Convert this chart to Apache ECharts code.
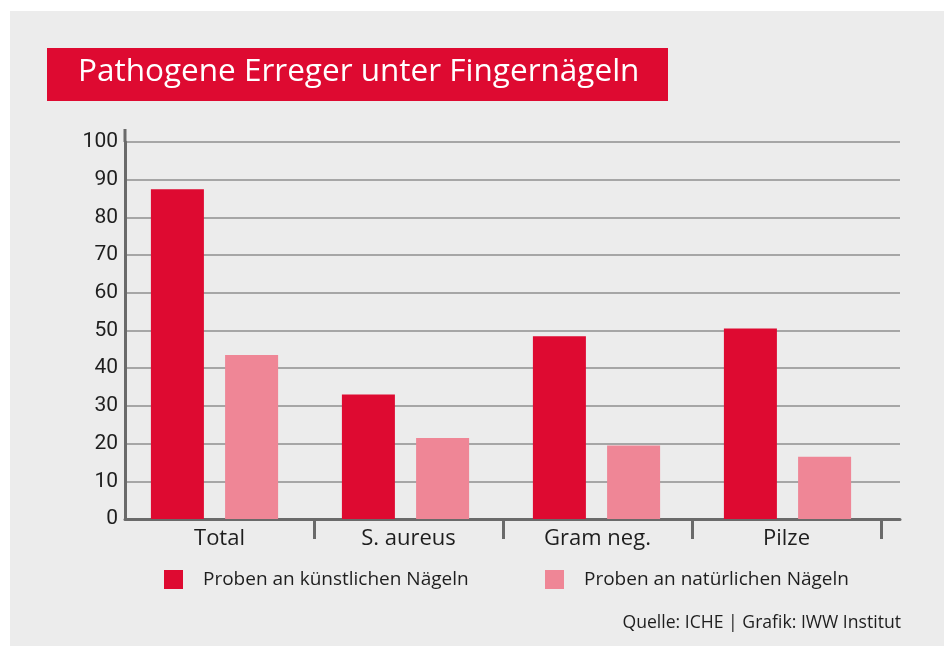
<!DOCTYPE html>
<html>
<head>
<meta charset="utf-8">
<script src="https://cdn.jsdelivr.net/npm/echarts@6/dist/echarts.min.js"></script>
<style>
  html, body { margin: 0; padding: 0; background: #ffffff; }
  #chart { width: 944px; height: 646px; }
</style>
</head>
<body>
<div id="chart"></div>
<script>
// Daten
const categories = ['Total', 'S. aureus', 'Gram neg.', 'Pilze']
const kuenstlich = [87.5, 33, 48.5, 50.5]
const natuerlich = [43.5, 21.5, 19.5, 16.5]
const seriesNames = ['Proben an künstlichen Nägeln', 'Proben an natürlichen Nägeln']
const titleText = 'Pathogene Erreger unter Fingernägeln'
const sourceText = 'Quelle: ICHE | Grafik: IWW Institut'

const RED = '#de0a31'
const PINK = '#ef8696'
const FONT = 'Open Sans'
const TEXT = '#1e1e1e'

const chart = echarts.init(document.getElementById('chart'))

const option = {
  backgroundColor: '#ffffff',
  animation: false,
  textStyle: { fontFamily: FONT },
  graphic: [
    // grauer Hintergrund
    { type: 'rect', left: 10, top: 11, z: -10, shape: { width: 934, height: 635 }, style: { fill: '#ececec' } },
    // roter Titelbalken
    { type: 'rect', left: 47, top: 48, z: 1, shape: { width: 621, height: 53 }, style: { fill: RED } },
    // Verlängerung der y-Achse über 100 hinaus
    { type: 'line', z: 5, shape: { x1: 125, y1: 129, x2: 125, y2: 142 }, style: { stroke: '#6a6a6a', lineWidth: 3 } }
  ],
  title: [
    {
      text: titleText,
      left: 78,
      top: 56,
      padding: 0,
      textStyle: { color: '#ffffff', fontSize: 31.5, fontWeight: 'normal', fontFamily: FONT }
    },
    {
      text: sourceText,
      right: 43,
      top: 614,
      padding: 0,
      textStyle: { color: TEXT, fontSize: 17.6, fontWeight: 'normal', fontFamily: FONT }
    }
  ],
  legend: [
    {
      data: [seriesNames[0]],
      left: 164, top: 570, padding: 0,
      icon: 'rect', itemWidth: 19, itemHeight: 19,
      textStyle: { color: TEXT, fontSize: 19, padding: [0, 0, 0, 15], fontFamily: FONT }
    },
    {
      data: [seriesNames[1]],
      left: 545, top: 570, padding: 0,
      icon: 'rect', itemWidth: 19, itemHeight: 19,
      textStyle: { color: TEXT, fontSize: 19, padding: [0, 0, 0, 15], fontFamily: FONT }
    }
  ],
  grid: [
    // Gitterlinien und Achsenlinien (bis 900 px)
    { left: 125, right: 44, top: 142, bottom: 127 },
    // Kategorien und Striche
    { left: 125, right: 63, top: 142, bottom: 127 },
    // Balken
    { left: 119, right: 61, top: 142, bottom: 127 }
  ],
  xAxis: [
    {
      type: 'value', gridIndex: 0, min: 0, max: 1,
      axisLine: { show: true, onZero: false, lineStyle: { color: '#6a6a6a', width: 3 } },
      axisTick: { show: false }, axisLabel: { show: false }, splitLine: { show: false }
    },
    {
      type: 'category', gridIndex: 1, data: categories,
      axisLine: { show: false },
      axisTick: {
        show: true, length: 20,
        interval: function (index) { return index !== 0 },
        lineStyle: { color: '#6a6a6a', width: 3 }
      },
      axisLabel: { color: TEXT, fontSize: 22, margin: 9, fontFamily: FONT },
      splitLine: { show: false }
    },
    {
      type: 'category', gridIndex: 2, data: categories, show: false
    }
  ],
  yAxis: [
    {
      type: 'value', gridIndex: 0, min: 0, max: 100, interval: 10,
      axisLine: { show: true, lineStyle: { color: '#6a6a6a', width: 3 } },
      axisTick: { show: false },
      axisLabel: { color: TEXT, fontSize: 21, margin: 7, fontFamily: 'Roboto' },
      splitLine: { show: true, lineStyle: { color: '#a6a6a6', width: 2 } }
    },
    { type: 'value', gridIndex: 1, min: 0, max: 100, interval: 10, show: false },
    { type: 'value', gridIndex: 2, min: 0, max: 100, interval: 10, show: false }
  ],
  series: [
    {
      name: seriesNames[0], type: 'bar', xAxisIndex: 2, yAxisIndex: 2,
      data: kuenstlich, barWidth: 53, barGap: '40%',
      itemStyle: { color: RED }, z: 3
    },
    {
      name: seriesNames[1], type: 'bar', xAxisIndex: 2, yAxisIndex: 2,
      data: natuerlich, barWidth: 53, barGap: '40%',
      itemStyle: { color: PINK }, z: 3
    }
  ]
}

chart.setOption(option)
</script>
</body>
</html>
